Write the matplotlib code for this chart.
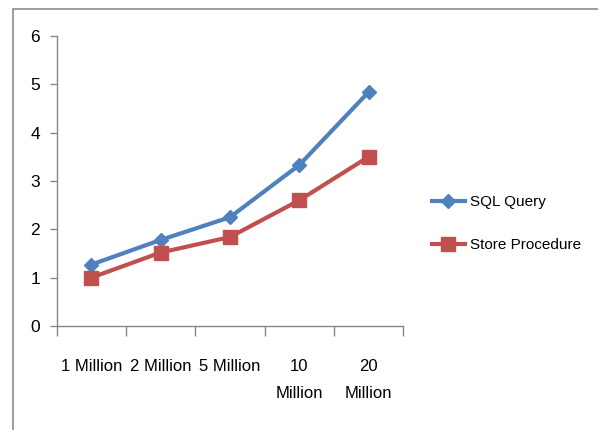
import matplotlib
matplotlib.use('Agg')
import matplotlib.pyplot as plt
from matplotlib.patches import Rectangle

# Tiempo de ejecución por volumen de registros
categorias = ['1 Million', '2 Million', '5 Million', '10\nMillion', '20\nMillion']
sql_query = [1.27, 1.78, 2.25, 3.33, 4.84]
store_procedure = [1.0, 1.52, 1.84, 2.6, 3.5]
y_ticks = [0, 1, 2, 3, 4, 5, 6]

AZUL = '#4F81BD'
ROJO = '#C0504D'
GRIS = '#868686'

plt.rcParams['font.family'] = ['Liberation Sans', 'DejaVu Sans']

fig = plt.figure(figsize=(5.98, 4.30), dpi=100)
ax = fig.add_axes([0.0948, 0.2419, 0.5795, 0.6744])

x = list(range(1, len(categorias) + 1))
ax.plot(x, sql_query, color=AZUL, lw=3, marker='D', ms=7,
        mec=AZUL, mfc=AZUL, label='SQL Query')
ax.plot(x, store_procedure, color=ROJO, lw=3, marker='s', ms=10,
        mec=ROJO, mfc=ROJO, label='Store Procedure')

ax.set_xlim(0.5, len(categorias) + 0.5)
ax.set_ylim(0, 6)
ax.set_yticks(y_ticks)
ax.set_yticklabels([str(v) for v in y_ticks], fontsize=12.5)

# etiquetas en el centro de cada categoría, marcas en los límites
ax.set_xticks(x)
ax.set_xticklabels(categorias, fontsize=12, linespacing=2.0,
                   multialignment='center', va='top')
ax.set_xticks([v + 0.5 for v in range(len(categorias) + 1)], minor=True)
ax.tick_params(axis='x', which='major', length=0, pad=24)
ax.tick_params(axis='x', which='minor', length=7, color=GRIS, width=1)
ax.tick_params(axis='y', length=5, color=GRIS, width=1, pad=7)

for s in ['top', 'right']:
    ax.spines[s].set_visible(False)
for s in ['left', 'bottom']:
    ax.spines[s].set_color(GRIS)
    ax.spines[s].set_linewidth(1)

fig.legend(loc='center left', bbox_to_anchor=(0.699, 0.480), frameon=False,
           fontsize=11, handlelength=2.15, labelspacing=1.9,
           handletextpad=0.33)

# marco del área del gráfico
fig.patches.append(Rectangle((13 / 598, -0.05), 1.0, (430 - 9) / 430 + 0.05,
                             transform=fig.transFigure, fill=False,
                             edgecolor='#8C8C8C', lw=1.2))

fig.savefig('out.png', dpi=100)
